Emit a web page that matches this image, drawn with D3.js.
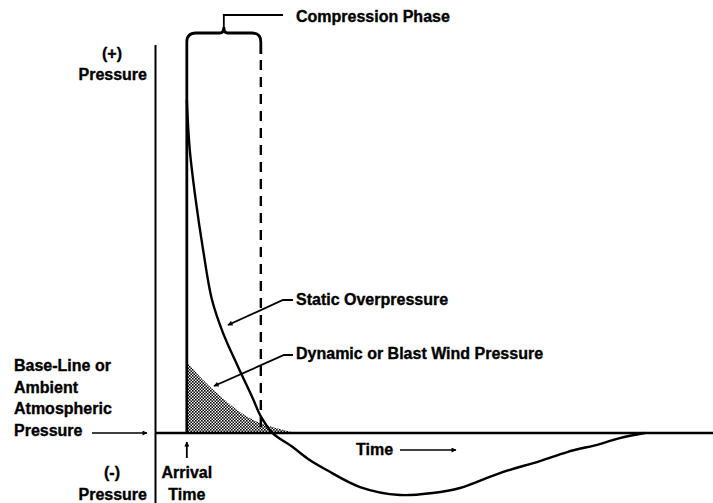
<!DOCTYPE html>
<html><head><meta charset="utf-8">
<script src="https://cdn.jsdelivr.net/npm/d3@7/dist/d3.min.js"></script>
<style>body{margin:0;background:#fff}svg{display:block}text{font-family:"Liberation Sans",Arial,sans-serif;font-weight:bold;fill:#000;stroke:#000;stroke-width:0.35px}</style>
</head><body>
<svg id="c" width="713" height="503"></svg>
<script>
// time (0 = arrival, 1 = end of compression phase), pressure (1 = peak overpressure)
const staticTime = [0, 0.04, 0.12, 0.22, 0.34, 0.49, 0.69, 0.88, 1.0, 1.16, 1.43, 1.66, 1.89, 2.34, 2.88, 3.32, 3.69, 4.23, 4.77, 5.14, 5.58, 5.85, 6.19];
const staticPressure = [1.0, 0.85, 0.70, 0.55, 0.40, 0.30, 0.20, 0.11, 0.05, 0, -0.042, -0.081, -0.111, -0.162, -0.186, -0.180, -0.165, -0.120, -0.084, -0.057, -0.033, -0.015, 0];
const dynamicTime = [0, 0.22, 0.45, 0.68, 0.99, 1.26, 1.46];
const dynamicPressure = [0.213, 0.159, 0.111, 0.069, 0.030, 0.012, 0];
const arrivalTime = 0, compressionEnd = 1;
const labels = {
  compression: "Compression Phase",
  plus: "(+)", minus: "(-)", pressure: "Pressure",
  baseline: ["Base-Line or", "Ambient", "Atmospheric", "Pressure"],
  arrival: ["Arrival", "Time"],
  time: "Time",
  staticOver: "Static Overpressure",
  dynamic: "Dynamic or Blast Wind Pressure"
};

const svg = d3.select("#c");
const x = d3.scaleLinear().domain([-0.43, 7.11]).range([155, 713]);
const y = d3.scaleLinear().domain([-0.21, 1.3]).range([503, 0]);
const fs = 16;

const defs = svg.append("defs");
const pat = defs.append("pattern").attr("id","dots").attr("width",3).attr("height",3).attr("patternUnits","userSpaceOnUse");
pat.append("rect").attr("width",3).attr("height",3).attr("fill","#fff");
pat.append("rect").attr("x",0).attr("y",0).attr("width",1.6).attr("height",1.6).attr("fill","#000");
pat.append("rect").attr("x",1.5).attr("y",1.5).attr("width",1.6).attr("height",1.6).attr("fill","#000");
const mk = defs.append("marker").attr("id","ah").attr("viewBox","0 0 10 10").attr("refX",9).attr("refY",5)
  .attr("markerWidth",7).attr("markerHeight",5).attr("markerUnits","userSpaceOnUse").attr("orient","auto");
mk.append("path").attr("d","M0,0L10,5L0,10Z").attr("fill","#000");

const y0 = y(0);
// dynamic pressure shaded area
const dyn = dynamicTime.map((t,i)=>[t, dynamicPressure[i]]);
svg.append("path").datum(dyn)
  .attr("d", d3.area().x(d=>x(d[0])).y0(y0).y1(d=>y(d[1])).curve(d3.curveMonotoneX))
  .attr("fill","url(#dots)");

// axes
svg.append("line").attr("x1",x(-0.43)+0.5).attr("x2",x(-0.43)+0.5).attr("y1",45).attr("y2",503).attr("stroke","#000").attr("stroke-width",2);
svg.append("line").attr("x1",x(-0.43)).attr("x2",713).attr("y1",y0).attr("y2",y0).attr("stroke","#000").attr("stroke-width",2.4);

// brace + arrival line + dashed end line
const xa = x(arrivalTime), xe = x(compressionEnd), xm = (xa+xe)/2;
svg.append("path").attr("d",
  `M${xa},${y0} L${xa},42 Q${xa},33 ${xa+9},33 L${xm-4},33 Q${xm},33 ${xm},27 Q${xm},33 ${xm+4},33 L${xe-9},33 Q${xe},33 ${xe},42 L${xe},54`)
  .attr("fill","none").attr("stroke","#000").attr("stroke-width",2.8);
svg.append("line").attr("x1",xe).attr("x2",xe).attr("y1",60).attr("y2",y0).attr("stroke","#000").attr("stroke-width",2.4).attr("stroke-dasharray","10,7");
svg.append("path").attr("d",`M${xm},27 L${xm},15 L283,15`).attr("fill","none").attr("stroke","#000").attr("stroke-width",1.8);
svg.append("text").attr("x",296).attr("y",22).attr("font-size",fs).text(labels.compression);

// static overpressure curve
const st = staticTime.map((t,i)=>[t, staticPressure[i]]);
svg.append("path").datum(st)
  .attr("d", d3.line().x(d=>x(d[0])).y(d=>y(d[1])).curve(d3.curveCatmullRom.alpha(0.5)))
  .attr("fill","none").attr("stroke","#000").attr("stroke-width",2.4);

// left labels
svg.append("text").attr("x",112).attr("y",59).attr("text-anchor","middle").attr("font-size",fs).text(labels.plus);
svg.append("text").attr("x",147).attr("y",80).attr("text-anchor","end").attr("font-size",fs).text(labels.pressure);
labels.baseline.forEach((s,i)=>svg.append("text").attr("x",14).attr("y",371+i*21.5).attr("font-size",fs).text(s));
svg.append("line").attr("x1",92).attr("x2",147).attr("y1",433).attr("y2",433).attr("stroke","#000").attr("stroke-width",1.5).attr("marker-end","url(#ah)");
svg.append("text").attr("x",112).attr("y",478).attr("text-anchor","middle").attr("font-size",fs).text(labels.minus);
svg.append("text").attr("x",147).attr("y",500).attr("text-anchor","end").attr("font-size",fs).text(labels.pressure);

// arrival
svg.append("line").attr("x1",xa).attr("x2",xa).attr("y1",458).attr("y2",442).attr("stroke","#000").attr("stroke-width",1.8).attr("marker-end","url(#ah)");
labels.arrival.forEach((s,i)=>svg.append("text").attr("x",xa).attr("y",478+i*22).attr("text-anchor","middle").attr("font-size",fs).text(s));

// time label
svg.append("text").attr("x",356).attr("y",455).attr("font-size",fs).text(labels.time);
svg.append("line").attr("x1",400).attr("x2",456).attr("y1",450).attr("y2",450).attr("stroke","#000").attr("stroke-width",1.5).attr("marker-end","url(#ah)");

// callouts
svg.append("path").attr("d","M293,300 L283,300 L228,325").attr("fill","none").attr("stroke","#000").attr("stroke-width",1.8).attr("marker-end","url(#ah)");
svg.append("text").attr("x",296).attr("y",305).attr("font-size",fs).text(labels.staticOver);
svg.append("path").attr("d","M293,355 L284,355 L214,386").attr("fill","none").attr("stroke","#000").attr("stroke-width",1.8).attr("marker-end","url(#ah)");
svg.append("text").attr("x",296).attr("y",359).attr("font-size",fs).text(labels.dynamic);
</script>
</body></html>
